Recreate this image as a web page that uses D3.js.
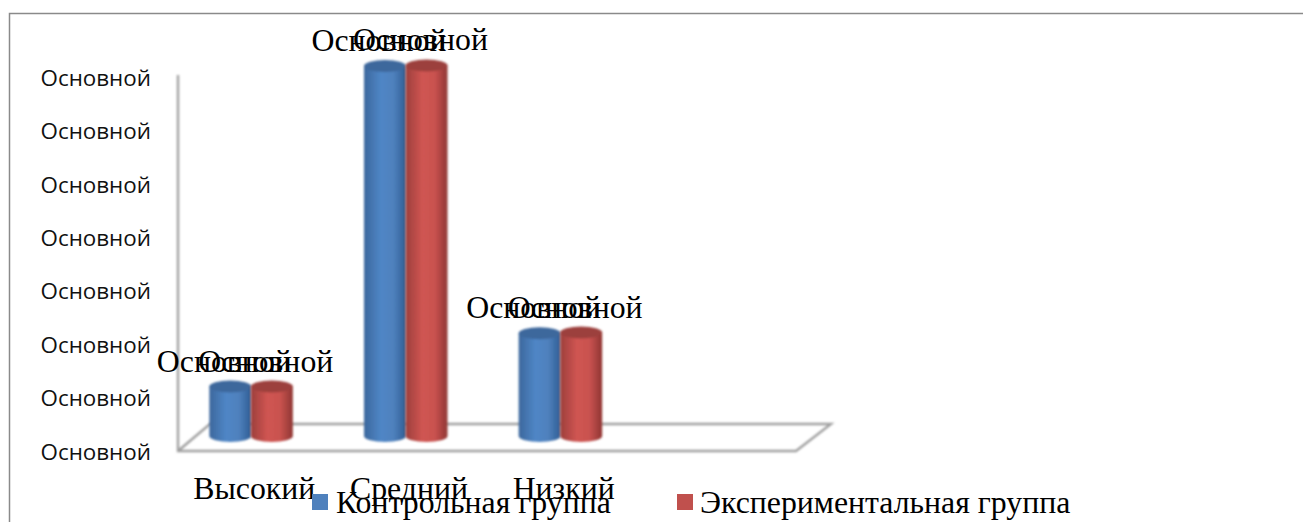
<!DOCTYPE html>
<html><head><meta charset="utf-8">
<style>html,body{margin:0;background:#fff;overflow:hidden}svg{display:block}</style>
<script src="https://cdn.jsdelivr.net/npm/d3@7"></script></head>
<body><svg id="c" width="1303" height="522"></svg>
<script>
const categories = ["Высокий","Средний","Низкий"];
const seriesNames = ["Контрольная группа","Экспериментальная группа"];
const control = [10,70,20];
const experimental = [10,70.1,20.1];
const tickValues = [0,10,20,30,40,50,60,70];
const tickLabel = "Основной";
const seriesColors = ["#4f81bd","#c0504d"];

const svg = d3.select("#c");
const defs = svg.append("defs");
const shade = [["#3c679c","#4f86c6","#4f81bd","#2f5d94"],["#9c3f3c","#d05552","#c9524f","#8f3533"]];
shade.forEach((s,i)=>{
  const g = defs.append("linearGradient").attr("id","g"+i);
  [0,.4,.7,1].forEach((o,j)=>g.append("stop").attr("offset",o).attr("stop-color",s[j]));
});
defs.append("filter").attr("id","blur").append("feGaussianBlur").attr("stdDeviation",0.8);

svg.append("path").attr("d","M9.5,522V13.5H1303").attr("fill","none").attr("stroke","#8a8a8a").attr("stroke-width",1.5);

const y = d3.scaleLinear().domain([0,70]).range([440,66]);
const x = d3.scaleBand().domain(categories).range([174,638]).paddingInner(0);
const cx = (c,i)=> x(c)+x.bandwidth()/2+(i===0?-21:20.5);

// floor
const floor = svg.append("g").attr("filter","url(#blur)");
floor.append("path").attr("d","M178,75V451H796L831,424H210L178,451")
  .attr("fill","none").attr("stroke","#a0a0a0").attr("stroke-width",2.4);

// axis labels
const axis = d3.axisLeft(d3.scaleLinear().domain([0,70]).range([452,78]))
  .tickValues(tickValues).tickFormat(()=>tickLabel).tickSize(0).tickPadding(0);
const ag = svg.append("g").attr("transform","translate(151,0)").call(axis);
ag.select(".domain").remove();
ag.selectAll("text").attr("font-family","'Open Sans','Noto Sans',sans-serif").attr("font-size",22.4).attr("fill","#111");

// cylinders
const rx = 21, ry = 6;
[control,experimental].forEach((vals,i)=>{
  const g = svg.append("g").attr("filter","url(#blur)");
  categories.forEach((c,k)=>{
    const cxv = cx(c,i), top = y(vals[k]), bot = y(0);
    g.append("path").attr("d",`M${cxv-rx},${top}V${bot-4}A${rx},${ry} 0 0 0 ${cxv+rx},${bot-4}V${top}Z`).attr("fill",`url(#g${i})`);
    g.append("ellipse").attr("cx",cxv).attr("cy",top).attr("rx",rx).attr("ry",ry).attr("fill",shade[i][0]);
  });
});

// value labels
const serif = "'Liberation Serif','Times New Roman',serif";
const bigFont = 31.8;
[control,experimental].forEach((vals,i)=>{
  categories.forEach((c,k)=>{
    svg.append("text").attr("x",cx(c,i)-6).attr("y",y(vals[k])-15)
      .attr("text-anchor","middle").attr("font-family",serif).attr("font-size",bigFont).attr("fill","#000").text(tickLabel);
  });
});

// category labels
categories.forEach(c=>{
  svg.append("text").attr("x",x(c)+x.bandwidth()/2+3).attr("y",499).attr("text-anchor","middle")
    .attr("font-family",serif).attr("font-size",bigFont).attr("fill","#000").text(c);
});

// legend
const legendX = [312,677], legendText=[336,700];
seriesNames.forEach((n,i)=>{
  svg.append("rect").attr("x",legendX[i]).attr("y",494).attr("width",16).attr("height",16).attr("fill",seriesColors[i]);
  svg.append("text").attr("x",legendText[i]).attr("y",513).attr("font-family",serif).attr("font-size",bigFont).attr("fill","#000").text(n);
});
</script></body></html>
